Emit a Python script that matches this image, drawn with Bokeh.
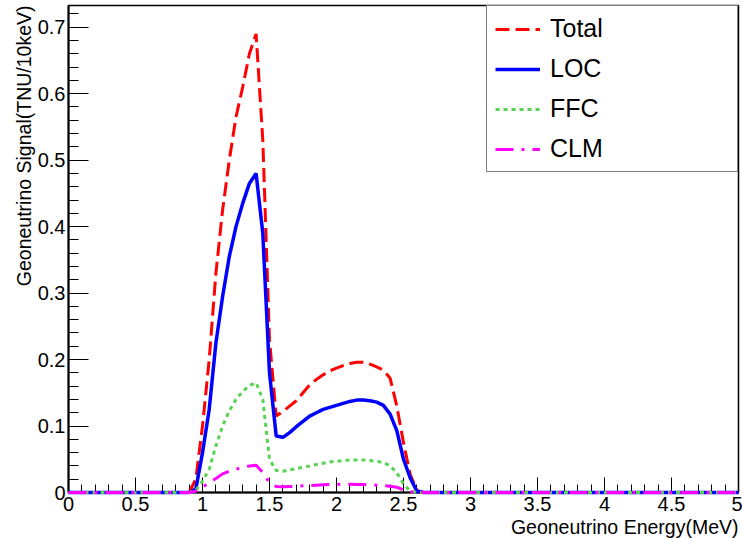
from bokeh.plotting import figure
from bokeh.models import (Range1d, FixedTicker, Legend, LegendItem, Title)
from bokeh.embed import file_html
from bokeh.resources import INLINE

# ---------------- data ----------------
energy = [0.0, 0.90, 0.95, 1.00, 1.05, 1.10, 1.15, 1.20, 1.25, 1.30, 1.35,
          1.40, 1.45, 1.50, 1.55, 1.60, 1.65, 1.70, 1.75, 1.80, 1.85,
          1.90, 1.95, 2.00, 2.05, 2.10, 2.15, 2.20, 2.25, 2.30, 2.35,
          2.40, 2.45, 2.50, 2.55, 2.60, 2.65, 5.0]

total = [0.0, 0.0, 0.02, 0.10, 0.20, 0.33, 0.425, 0.50, 0.565, 0.61, 0.66,
         0.69, 0.53, 0.23, 0.115, 0.122, 0.130, 0.138, 0.150, 0.162, 0.170,
         0.177, 0.183, 0.187, 0.191, 0.194, 0.196, 0.196, 0.193, 0.189, 0.184,
         0.172, 0.130, 0.075, 0.027, 0.003, 0.0, 0.0]

loc = [0.0, 0.0, 0.005, 0.06, 0.125, 0.225, 0.295, 0.355, 0.40, 0.435, 0.465,
       0.48, 0.39, 0.18, 0.085, 0.083, 0.090, 0.099, 0.107, 0.115, 0.120,
       0.125, 0.128, 0.131, 0.134, 0.137, 0.139, 0.139, 0.138, 0.136, 0.131,
       0.118, 0.093, 0.050, 0.022, 0.002, 0.0, 0.0]

ffc = [0.0, 0.0, 0.003, 0.017, 0.035, 0.07, 0.10, 0.123, 0.14, 0.152, 0.161,
       0.165, 0.14, 0.05, 0.033, 0.032, 0.034, 0.036, 0.038, 0.040, 0.042,
       0.044, 0.046, 0.047, 0.048, 0.049, 0.049, 0.049, 0.048, 0.047, 0.045,
       0.040, 0.030, 0.013, 0.002, 0.0, 0.0, 0.0]

clm = [0.0, 0.0, 0.002, 0.008, 0.015, 0.021, 0.028, 0.032, 0.035, 0.038, 0.040,
       0.041, 0.030, 0.015, 0.009, 0.0085, 0.009, 0.0095, 0.010, 0.0105, 0.011,
       0.0115, 0.012, 0.012, 0.0125, 0.0125, 0.012, 0.012, 0.0115, 0.011, 0.0105,
       0.0095, 0.008, 0.004, 0.001, 0.0, 0.0, 0.0]

series_names = ["Total", "LOC", "FFC", "CLM"]

x_ticks = [0, 0.5, 1, 1.5, 2, 2.5, 3, 3.5, 4, 4.5, 5]
x_tick_labels = ["0", "0.5", "1", "1.5", "2", "2.5", "3", "3.5", "4", "4.5", "5"]
y_ticks = [0, 0.1, 0.2, 0.3, 0.4, 0.5, 0.6, 0.7]
y_tick_labels = ["0", "0.1", "0.2", "0.3", "0.4", "0.5", "0.6", "0.7"]

x_title = "Geoneutrino Energy(MeV)"
y_title = "Geoneutrino Signal(TNU/10keV)"

# ---------------- figure ----------------
FONT = "Liberation Sans"
p = figure(width=742, height=538, output_backend="svg", toolbar_location=None,
           x_range=Range1d(0, 5), y_range=Range1d(0, 0.7327),
           min_border_left=68, min_border_right=4, min_border_top=5,
           min_border_bottom=46)
p.background_fill_color = "white"
p.border_fill_color = "white"
p.outline_line_color = "black"
p.outline_line_width = 1.5
p.xgrid.visible = False
p.ygrid.visible = False

xminor = [round(0.1 * i, 2) for i in range(51)]
yminor = [round(0.02 * i, 2) for i in range(37)]
p.xaxis.ticker = FixedTicker(ticks=x_ticks, minor_ticks=xminor)
p.yaxis.ticker = FixedTicker(ticks=y_ticks, minor_ticks=yminor)
p.xaxis.major_label_overrides = {t: l for t, l in zip(x_ticks, x_tick_labels)}
p.yaxis.major_label_overrides = {t: l for t, l in zip(y_ticks, y_tick_labels)}

for ax in (p.xaxis[0], p.yaxis[0]):
    ax.axis_line_color = "black"
    ax.axis_line_width = 2
    ax.major_tick_line_color = "black"
    ax.minor_tick_line_color = "black"
    ax.major_tick_line_width = 1
    ax.minor_tick_line_width = 1
    ax.major_tick_out = 0
    ax.minor_tick_out = 0
    ax.major_label_text_font = FONT
    ax.major_label_text_font_size = "20px"
    ax.major_label_text_color = "black"

p.xaxis.major_tick_in = 15
p.xaxis.minor_tick_in = 8
p.xaxis.major_label_standoff = 4
p.yaxis.major_tick_in = 20
p.yaxis.minor_tick_in = 10
p.yaxis.major_label_standoff = 3

# ---------------- curves ----------------
r_total = p.line(energy, total, line_color="#ff0000", line_width=3, line_dash="14 6", level="overlay")
r_loc = p.line(energy, loc, line_color="#0000ff", line_width=3.5, level="overlay")
r_ffc = p.line(energy, ffc, line_color="#59d354", line_width=3, line_dash="4 4", level="overlay")
r_clm = p.line(energy, clm, line_color="#ff00ff", line_width=3, line_dash="18 8 3 8", level="overlay")

renderers = [r_total, r_loc, r_ffc, r_clm]
legend = Legend(items=[LegendItem(label=n, renderers=[r]) for n, r in zip(series_names, renderers)],
                location="top_right", margin=0, padding=8, spacing=11,
                glyph_width=45, glyph_height=28, label_height=28,
                label_standoff=10, label_width=179,
                label_text_font=FONT, label_text_font_size="25px",
                label_text_color="black",
                border_line_color="black", border_line_width=1.5,
                background_fill_color="white", background_fill_alpha=1.0)
p.add_layout(legend, "center")

# ---------------- axis titles ----------------
p.add_layout(Title(text=x_title, align="right", text_font=FONT, text_font_size="19.5px",
                   text_font_style="normal", text_color="black", offset=0, standoff=0),
             "below")
p.add_layout(Title(text=y_title, align="right", text_font=FONT, text_font_size="19.5px",
                   text_font_style="normal", text_color="black", offset=0, standoff=0),
             "left")

open("out.html", "w").write(file_html(p, INLINE))
